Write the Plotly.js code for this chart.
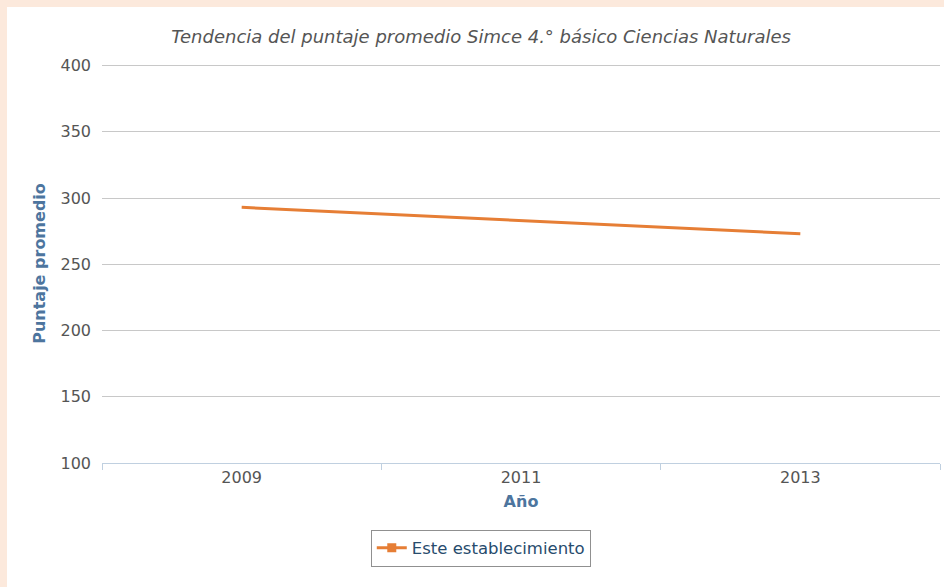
<!DOCTYPE html>
<html>
<head>
<meta charset="utf-8">
<script src="https://cdn.plot.ly/plotly-3.0.1.min.js"></script>
<style>
  html, body { margin: 0; padding: 0; background: #fce9dc; }
  #chart { position: absolute; left: 7px; top: 7px; width: 937px; height: 580px; background: #ffffff; }
</style>
</head>
<body>
<div id="chart"></div>
<script>
// Simce 4.° básico Ciencias Naturales, puntaje promedio por año
const years = ['2009', '2011', '2013'];
const scores = [293, 283, 273];
const seriesName = 'Este establecimiento';

const orange = '#e67e35';
const axisBlue = '#4d759e';
const baseFont = 'DejaVu Sans, Verdana, sans-serif';

Plotly.newPlot('chart', [
  {
    x: years,
    y: scores,
    type: 'scatter',
    mode: 'lines',
    line: { color: orange, width: 3 },
    showlegend: false,
    hovertemplate: '%{x}<br>%{y}<extra></extra>',
  },
  // legend entry only (line + square marker like the original)
  {
    x: [years[0]],
    y: [null],
    type: 'scatter',
    mode: 'lines+markers',
    name: seriesName,
    line: { color: orange, width: 3 },
    marker: { color: orange, symbol: 'square', size: 9 },
  },
], {
  title: {
    text: 'Tendencia del puntaje promedio Simce 4.° básico Ciencias Naturales',
    font: { family: baseFont, size: 18, color: '#555555', style: 'italic' },
    x: 0.506,
    xanchor: 'center',
    y: 0.949,
    yanchor: 'middle',
  },
  xaxis: {
    type: 'category',
    range: [-0.5, 2.5],
    tickson: 'boundaries',
    ticks: 'outside',
    ticklen: 6,
    tickcolor: '#c0d0e0',
    showline: true,
    linecolor: '#c0d0e0',
    linewidth: 1,
    showgrid: false,
    tickfont: { family: baseFont, size: 16, color: '#555555' },
    title: {
      text: 'Año',
      font: { family: baseFont, size: 16, color: axisBlue, weight: 'bold' },
      standoff: 9,
    },
    fixedrange: true,
  },
  yaxis: {
    // a little headroom so the 400 grid line is drawn
    range: [100, 401.2],
    tickvals: [100, 150, 200, 250, 300, 350, 400],
    showgrid: true,
    gridcolor: '#c8c8c8',
    gridwidth: 1,
    zeroline: false,
    showline: false,
    ticks: '',
    ticklabelstandoff: 10,
    tickfont: { family: baseFont, size: 16, color: '#555555' },
    title: {
      text: 'Puntaje promedio',
      font: { family: baseFont, size: 16, color: axisBlue, weight: 'bold' },
      standoff: 10,
    },
    fixedrange: true,
  },
  showlegend: true,
  legend: {
    orientation: 'h',
    x: 0.452,
    xanchor: 'center',
    y: -0.167,
    yanchor: 'top',
    bordercolor: '#909090',
    borderwidth: 1,
    bgcolor: '#ffffff',
    font: { family: baseFont, size: 16.5, color: '#274b6d' },
  },
  margin: { l: 95, r: 4, t: 57, b: 124 },
  paper_bgcolor: '#ffffff',
  plot_bgcolor: '#ffffff',
}, { displayModeBar: false, staticPlot: true });
</script>
</body>
</html>
